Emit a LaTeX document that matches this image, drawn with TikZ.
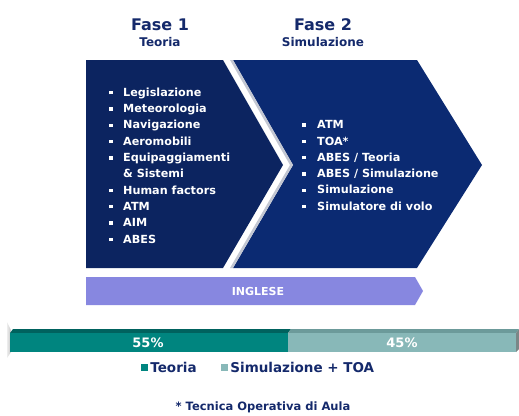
\documentclass[tikz,border=0pt]{standalone}
\usepackage{fontspec}
\setmainfont{DejaVu Sans}
\usepackage{tikz}
\usetikzlibrary{positioning}

\definecolor{faseuno}{HTML}{0C2460}
\definecolor{fasedue}{HTML}{0B2A72}
\definecolor{blutesto}{HTML}{14296B}
\definecolor{lilla}{HTML}{8787E0}
\definecolor{verdeteo}{HTML}{00857F}
\definecolor{verdeteotop}{HTML}{00625E}
\definecolor{verdesim}{HTML}{88B8B8}
\definecolor{verdesimtop}{HTML}{6C9A9A}
\definecolor{ombra}{HTML}{C3C7D2}

\newcommand{\punto}{\raisebox{2pt}{\rule{3.3pt}{3.3pt}}}
\newcommand{\voce}[1]{\makebox[14pt][l]{\punto}#1}
\newcommand{\vocedue}[1]{\makebox[15pt][l]{\punto}#1}

\begin{document}
\begin{tikzpicture}[x=1pt,y=-1pt,
    titolo/.style={text=blutesto, inner sep=0pt, font=\fontsize{16}{19}\selectfont\bfseries},
    sottotitolo/.style={text=blutesto, inner sep=0pt, font=\fontsize{12}{14}\selectfont\bfseries},
    elenco/.style={text=white, anchor=west, align=left, inner sep=0pt,
        font=\fontsize{11.2}{16.3}\selectfont\bfseries},
    percento/.style={text=white, inner sep=0pt, font=\fontsize{13}{15}\selectfont\bfseries},
    legenda/.style={text=blutesto, inner sep=0pt, font=\fontsize{13.5}{15}\selectfont\bfseries},
    quadretto/.style={minimum size=7pt, inner sep=0pt}]
   \useasboundingbox (0,0) rectangle (519,415);

   % titoli
   \node[titolo] (fase1) at (160,25) {Fase 1};
   \node[sottotitolo] (teoria) at (160,42) {Teoria};
   \node[titolo] (fase2) at (323,25) {Fase 2};
   \node[sottotitolo] (simulazione) at (323,42) {Simulazione};

   % frecce delle fasi
   \fill[fasedue] (233,60) -- (417,60) -- (482,165) -- (417,268) -- (233,268) -- (293,165) -- cycle;
   \fill[ombra] (233,268) -- (293,165) -- (233,60) -- (230,60) -- (290,165) -- (230,268) -- cycle;
   \fill[faseuno] (86,60) -- (223,60) -- (283,165) -- (223,268) -- (86,268) -- cycle;

   \node[elenco] (voci1) at (109,165.5) {\voce{Legislazione}\\
     \voce{Meteorologia}\\ \voce{Navigazione}\\ \voce{Aeromobili}\\
     \voce{Equipaggiamenti}\\ \hspace*{14pt}\& Sistemi\\ \voce{Human factors}\\
     \voce{ATM}\\ \voce{AIM}\\ \voce{ABES}};
   \node[elenco] (voci2) at (302,165.5) {\vocedue{ATM}\\ \vocedue{TOA*}\\
     \vocedue{ABES / Teoria}\\ \vocedue{ABES / Simulazione}\\
     \vocedue{Simulazione}\\ \vocedue{Simulatore di volo}};

   % inglese
   \fill[lilla] (86,277) -- (415,277) -- (423,291) -- (415,305) -- (86,305) -- cycle;
   \node[text=white, inner sep=0pt, font=\fontsize{11}{13}\selectfont\bfseries] (inglese) at (258,291) {INGLESE};

   % barra percentuali
   \shade[left color=gray!15, right color=gray!45] (7,322) -- (11,330) -- (11,352) -- (7,358) -- cycle;
   \fill[verdeteotop] (10,333) -- (13,329) -- (291,329) -- (288,333) -- cycle;
   \fill[verdesimtop] (288,333) -- (291,329) -- (519,329) -- (516,333) -- cycle;
   \fill[gray!70!verdesimtop] (516,333) -- (519,329) -- (519,349) -- (516,352) -- cycle;
   \fill[verdeteo] (10,333) rectangle (288,352);
   \fill[verdesim] (288,333) rectangle (516,352);
   \node[percento] (p55) at (148,343) {55\%};
   \node[percento] (p45) at (402,343) {45\%};

   % legenda
   \node[quadretto, fill=verdeteo] (qteoria) at (144.5,367.5) {};
   \node[legenda, right=2pt of qteoria] (legteoria) {Teoria};
   \node[quadretto, fill=verdesim] (qsimul) at (224.5,367.5) {};
   \node[legenda, right=2pt of qsimul] (legsimul) {Simulazione + TOA};

   \node[text=blutesto, inner sep=0pt, font=\fontsize{11.5}{14}\selectfont\bfseries] (nota) at (263,407) {* Tecnica Operativa di Aula};
 \end{tikzpicture}
\end{document}
